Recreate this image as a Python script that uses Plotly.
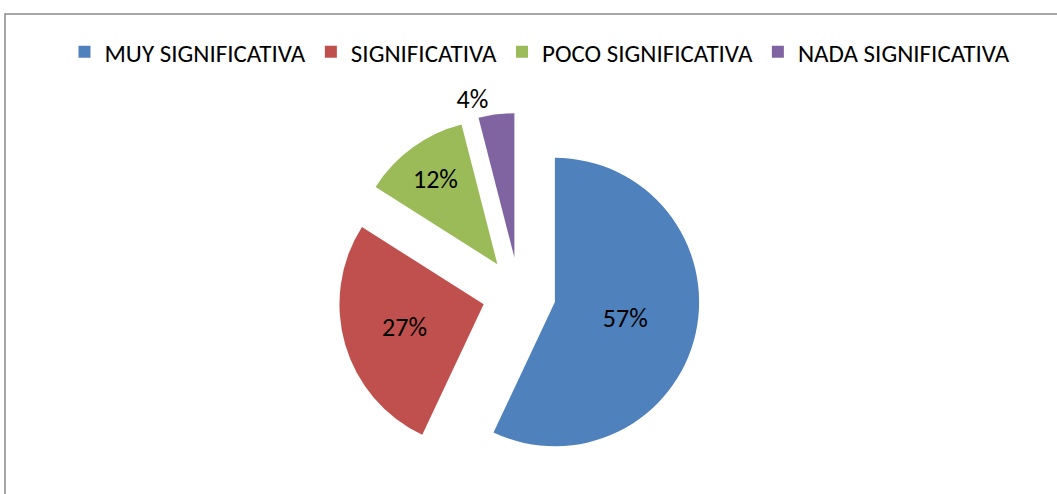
import plotly.graph_objects as go

categories = ["MUY SIGNIFICATIVA", "SIGNIFICATIVA", "POCO SIGNIFICATIVA", "NADA SIGNIFICATIVA"]
values = [57, 27, 12, 4]
colors = ["#4F81BD", "#C0504D", "#9BBB59", "#8064A2"]
text_positions = ["inside", "inside", "inside", "outside"]

W, H = 1057, 494
FONT = "Carlito, Calibri, Liberation Sans, Arial, sans-serif"

cx, cy = 519, 294          # pie centre in px (from top-left)
half = 181                 # half domain height in px

fig = go.Figure(go.Pie(
    labels=categories,
    values=values,
    marker=dict(colors=colors, line=dict(width=0)),
    sort=False,
    direction="clockwise",
    rotation=0,
    pull=[0.255] * len(values),
    texttemplate="%{value}%",
    textposition=text_positions,
    insidetextorientation="horizontal",
    textfont=dict(family=FONT, size=26, color="#000000"),
    hoverinfo="label+percent",
    domain=dict(x=[(cx - 300) / W, (cx + 300) / W],
                y=[(H - cy - half) / H, (H - cy + half) / H]),
))

fig.update_layout(
    width=W, height=H,
    margin=dict(l=0, r=0, t=0, b=0, autoexpand=False),
    paper_bgcolor="white",
    plot_bgcolor="white",
    font=dict(family=FONT, color="#000000"),
    showlegend=True,
    legend=dict(
        orientation="h",
        x=540 / W, xanchor="center",
        y=1 - 52 / H, yanchor="middle",
        font=dict(family=FONT, size=25, color="#000000"),
        itemwidth=30,
        traceorder="normal",
        bgcolor="rgba(0,0,0,0)",
    ),
    shapes=[dict(
        type="rect", xref="paper", yref="paper",
        x0=5 / W, x1=1.02, y0=-0.02, y1=1 - 14 / H,
        line=dict(color="#898989", width=1.5),
        fillcolor="rgba(0,0,0,0)",
    )],
)

fig.write_html(
    "out.html",
    config={"displayModeBar": False},
    post_script="document.body.style.margin='0';",
)
